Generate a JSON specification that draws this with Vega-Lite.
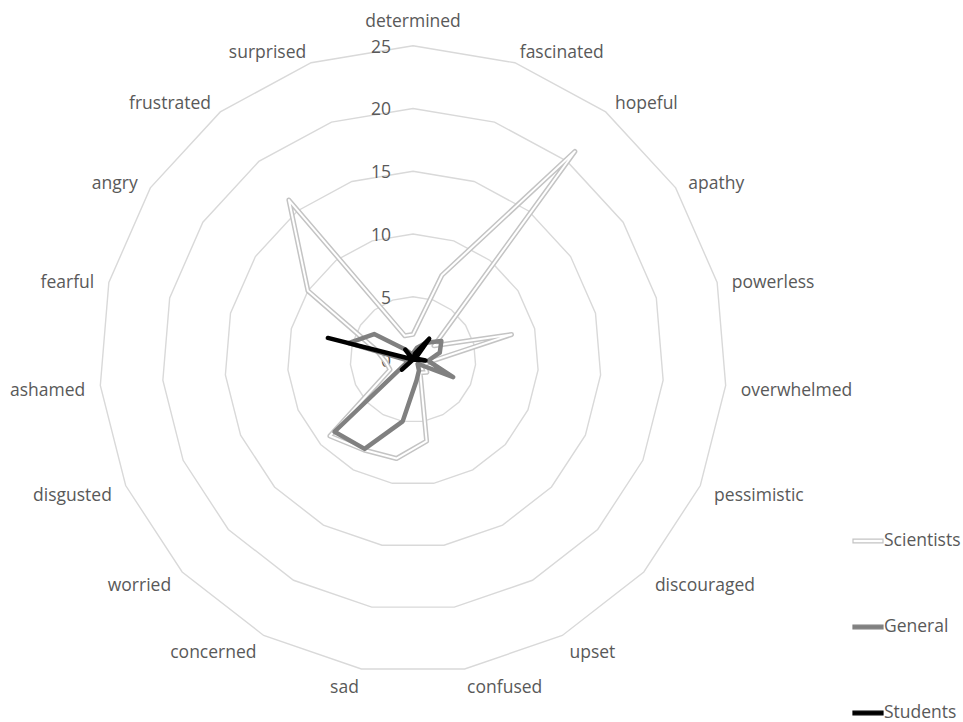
{
  "$schema": "https://vega.github.io/schema/vega-lite/v6.json",
  "width": 963,
  "height": 722,
  "padding": 0,
  "autosize": {"type": "none"},
  "background": "white",
  "config": {"view": {"stroke": null}, "font": "Open Sans"},
  "datasets": {
    "emotions": [
      {"cat": "determined", "Scientists": 2, "General": 0.5, "Students": 0},
      {"cat": "fascinated", "Scientists": 7.1, "General": 1, "Students": 0.5},
      {"cat": "hopeful", "Scientists": 21, "General": 1.7, "Students": 2.1},
      {"cat": "apathy", "Scientists": 2, "General": 2.7, "Students": 0.3},
      {"cat": "powerless", "Scientists": 8.1, "General": 2.2, "Students": 0.3},
      {"cat": "overwhelmed", "Scientists": 1.5, "General": 1.2, "Students": 1},
      {"cat": "pessimistic", "Scientists": 1, "General": 3.5, "Students": 0},
      {"cat": "discouraged", "Scientists": 1.5, "General": 0.5, "Students": 0},
      {"cat": "upset", "Scientists": 1.2, "General": 1, "Students": 0},
      {"cat": "confused", "Scientists": 6.6, "General": 1.7, "Students": 0},
      {"cat": "sad", "Scientists": 8, "General": 5, "Students": 0},
      {"cat": "concerned", "Scientists": 8.2, "General": 8.1, "Students": 0},
      {"cat": "worried", "Scientists": 9, "General": 8.5, "Students": 1.2},
      {"cat": "disgusted", "Scientists": 2, "General": 0.5, "Students": 0},
      {"cat": "ashamed", "Scientists": 2.2, "General": 0.5, "Students": 0},
      {"cat": "fearful", "Scientists": 3, "General": 5.3, "Students": 7},
      {"cat": "angry", "Scientists": 10, "General": 3.7, "Students": 0},
      {"cat": "frustrated", "Scientists": 16.1, "General": 1, "Students": 1},
      {"cat": "surprised", "Scientists": 2, "General": 0.5, "Students": 0}
    ]
  },
  "encoding": {
    "x": {"field": "px", "type": "quantitative", "axis": null,
          "scale": {"domain": [-32.908, 43.825], "nice": false, "zero": false}},
    "y": {"field": "py", "type": "quantitative", "axis": null,
          "scale": {"domain": [-28.884, 28.645], "nice": false, "zero": false}}
  },
  "layer": [
    {
      "data": {"name": "emotions"},
      "transform": [
        {"window": [{"op": "row_number", "as": "n"}]},
        {"calculate": "(datum.n - 1) * 2 * PI / 19", "as": "ang"},
        {"calculate": "[5, 10, 15, 20, 25]", "as": "level"},
        {"flatten": ["level"]},
        {"calculate": "datum.level * sin(datum.ang)", "as": "px"},
        {"calculate": "datum.level * cos(datum.ang)", "as": "py"}
      ],
      "mark": {"type": "line", "interpolate": "linear-closed", "color": "#d9d9d9", "strokeWidth": 1.4},
      "encoding": {"detail": {"field": "level"}, "order": {"field": "n"}}
    },
    {
      "data": {"name": "emotions"},
      "transform": [
        {"window": [{"op": "row_number", "as": "n"}]},
        {"filter": "datum.n == 1"},
        {"calculate": "[0, 5, 10, 15, 20, 25]", "as": "level"},
        {"flatten": ["level"]},
        {"calculate": "0", "as": "px"},
        {"calculate": "datum.level", "as": "py"}
      ],
      "mark": {"type": "text", "align": "right", "baseline": "middle", "dx": -22, "dy": 2, "fontSize": 17.5, "color": "#595959"},
      "encoding": {"text": {"field": "level", "type": "quantitative"}}
    },
    {
      "data": {"name": "emotions"},
      "transform": [
        {"window": [{"op": "row_number", "as": "n"}]},
        {"calculate": "(datum.n - 1) * 2 * PI / 19", "as": "ang"},
        {"fold": ["Scientists", "General", "Students"], "as": ["series", "value"]},
        {"filter": "datum.series == 'Scientists'"},
        {"calculate": "datum.value * sin(datum.ang)", "as": "px"},
        {"calculate": "datum.value * cos(datum.ang)", "as": "py"}
      ],
      "mark": {"type": "line", "interpolate": "linear-closed", "strokeWidth": 5, "strokeJoin": "round", "strokeCap": "round"},
      "encoding": {
        "order": {"field": "n"},
        "color": {
          "field": "series", "type": "nominal",
          "scale": {"domain": ["Scientists", "General", "Students"], "range": ["#c4c4c4", "#808080", "#000000"]},
          "legend": {
            "title": null, "orient": "none", "legendX": 852, "legendY": 525,
            "padding": 0, "rowPadding": 61, "labelOffset": 0,
            "labelFont": "Open Sans", "labelFontSize": 17.5, "labelColor": "#595959",
            "symbolType": "M-1,-0.12H1V0.12H-1Z", "symbolSize": 900,
            "encode": {
              "symbols": {
                "update": {
                  "fill": {"signal": "datum.value === 'Scientists' ? '#ffffff' : scale('color', datum.value)"},
                  "stroke": {"signal": "scale('color', datum.value)"},
                  "strokeWidth": {"value": 1.2},
                  "fillOpacity": {"value": 1},
                  "opacity": {"value": 1}
                }
              }
            }
          }
        }
      }
    },
    {
      "data": {"name": "emotions"},
      "transform": [
        {"window": [{"op": "row_number", "as": "n"}]},
        {"calculate": "(datum.n - 1) * 2 * PI / 19", "as": "ang"},
        {"fold": ["Scientists", "General", "Students"], "as": ["series", "value"]},
        {"filter": "datum.series == 'Scientists'"},
        {"calculate": "datum.value * sin(datum.ang)", "as": "px"},
        {"calculate": "datum.value * cos(datum.ang)", "as": "py"}
      ],
      "mark": {"type": "line", "interpolate": "linear-closed", "strokeWidth": 2, "color": "#ffffff", "strokeJoin": "round", "strokeCap": "round"},
      "encoding": {"order": {"field": "n"}}
    },
    {
      "data": {"name": "emotions"},
      "transform": [
        {"window": [{"op": "row_number", "as": "n"}]},
        {"calculate": "(datum.n - 1) * 2 * PI / 19", "as": "ang"},
        {"fold": ["Scientists", "General", "Students"], "as": ["series", "value"]},
        {"filter": "datum.series == 'General'"},
        {"calculate": "datum.value * sin(datum.ang)", "as": "px"},
        {"calculate": "datum.value * cos(datum.ang)", "as": "py"}
      ],
      "mark": {"type": "line", "interpolate": "linear-closed", "strokeWidth": 4.5, "strokeJoin": "round", "strokeCap": "round"},
      "encoding": {"order": {"field": "n"}, "color": {"field": "series", "type": "nominal"}}
    },
    {
      "data": {"name": "emotions"},
      "transform": [
        {"window": [{"op": "row_number", "as": "n"}]},
        {"calculate": "(datum.n - 1) * 2 * PI / 19", "as": "ang"},
        {"fold": ["Scientists", "General", "Students"], "as": ["series", "value"]},
        {"filter": "datum.series == 'Students'"},
        {"calculate": "datum.value * sin(datum.ang)", "as": "px"},
        {"calculate": "datum.value * cos(datum.ang)", "as": "py"}
      ],
      "mark": {"type": "line", "interpolate": "linear-closed", "strokeWidth": 4.5, "strokeJoin": "round", "strokeCap": "round"},
      "encoding": {"order": {"field": "n"}, "color": {"field": "series", "type": "nominal"}}
    },
    {
      "data": {"name": "emotions"},
      "transform": [
        {"window": [{"op": "row_number", "as": "n"}]},
        {"calculate": "(datum.n - 1) * 2 * PI / 19", "as": "ang"},
        {"filter": "sin(datum.ang) > 0.05"},
        {"calculate": "26.2 * sin(datum.ang)", "as": "px"},
        {"calculate": "26.2 * cos(datum.ang)", "as": "py"}
      ],
      "mark": {"type": "text", "align": "left", "baseline": "middle", "dy": 4, "fontSize": 17.5, "color": "#595959"},
      "encoding": {"text": {"field": "cat"}}
    },
    {
      "data": {"name": "emotions"},
      "transform": [
        {"window": [{"op": "row_number", "as": "n"}]},
        {"calculate": "(datum.n - 1) * 2 * PI / 19", "as": "ang"},
        {"filter": "sin(datum.ang) < -0.05"},
        {"calculate": "26.2 * sin(datum.ang)", "as": "px"},
        {"calculate": "26.2 * cos(datum.ang)", "as": "py"}
      ],
      "mark": {"type": "text", "align": "right", "baseline": "middle", "dy": 4, "fontSize": 17.5, "color": "#595959"},
      "encoding": {"text": {"field": "cat"}}
    },
    {
      "data": {"name": "emotions"},
      "transform": [
        {"window": [{"op": "row_number", "as": "n"}]},
        {"filter": "datum.n == 1"},
        {"calculate": "0", "as": "px"},
        {"calculate": "27.05", "as": "py"}
      ],
      "mark": {"type": "text", "align": "center", "baseline": "middle", "dy": 2, "fontSize": 17.5, "color": "#595959"},
      "encoding": {"text": {"field": "cat"}}
    }
  ]
}
